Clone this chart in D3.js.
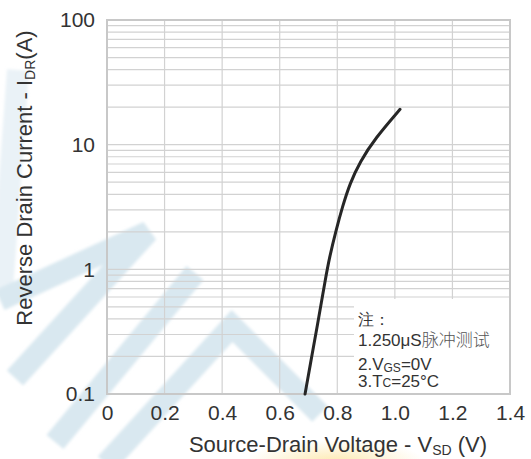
<!DOCTYPE html>
<html>
<head>
<meta charset="utf-8">
<script src="https://cdn.jsdelivr.net/npm/d3@7"></script>
<style>
  html, body { margin: 0; padding: 0; background: #ffffff; }
  svg { display: block; }
  text { font-family: "Liberation Sans", Arial, sans-serif; fill: #333333; }
</style>
</head>
<body>
<svg id="chart" width="531" height="459"></svg>
<script>
// ---- data ----
const vsd = [0.688, 0.714, 0.731, 0.745, 0.757, 0.773, 0.796, 0.818, 0.844, 0.879, 0.931, 1.018];
const idr = [0.1, 0.217, 0.358, 0.547, 0.792, 1.256, 2.07, 3.18, 4.9, 7.3, 11.2, 19.2];
const xTicks = [0, 0.2, 0.4, 0.6, 0.8, 1.0, 1.2, 1.4];
const xTickLabels = ["0", "0.2", "0.4", "0.6", "0.8", "1.0", "1.2", "1.4"];
const yTicks = [0.1, 1, 10, 100];
const yTickLabels = ["0.1", "1", "10", "100"];
const noteLines = ["注：", "1.250μS脉冲测试"];

// ---- layout ----
const svg = d3.select("#chart");
const x = d3.scaleLinear().domain([0, 1.4]).range([107, 510]);
const y = d3.scaleLog().domain([0.1, 100]).range([394, 20]);

const defs = svg.append("defs");
const blur = defs.append("filter").attr("id", "soft").attr("x", "-20%").attr("y", "-20%").attr("width", "140%").attr("height", "140%");
blur.append("feGaussianBlur").attr("stdDeviation", 1.5);
const glow = defs.append("radialGradient").attr("id", "glow");
glow.append("stop").attr("offset", "0%").attr("stop-color", "#fde7a8").attr("stop-opacity", 0.9);
glow.append("stop").attr("offset", "100%").attr("stop-color", "#fde7a8").attr("stop-opacity", 0);

// ---- background watermark (decorative) ----
const wm = svg.append("g").attr("filter", "url(#soft)").attr("fill", "none")
  .attr("stroke", "#d9e8f0").attr("stroke-width", 22).attr("stroke-linejoin", "miter");
const wmPaths = [
  [[18, 70], [2, 290]],
  [[0, 300], [148, 232], [15, 378]],
  [[195, 273], [55, 442]],
  [[106, 464], [232, 326], [320, 414]]
];
wmPaths.forEach((p, i) => {
  wm.append("path").attr("d", d3.line()(p)).attr("stroke-opacity", i === 0 ? 0.55 : 1);
});
svg.append("ellipse").attr("cx", 335).attr("cy", 462).attr("rx", 90).attr("ry", 22).attr("fill", "url(#glow)");

// ---- grid ----
const grid = svg.append("g").attr("stroke", "#d2d2d2").attr("stroke-width", 1.2);
const minor = [];
[0.1, 1, 10].forEach(d => { for (let k = 1; k <= 9; k++) minor.push(d * k); });
minor.filter(v => v > 0.1).forEach(v => {
  grid.append("line").attr("x1", x(0)).attr("x2", x(1.4)).attr("y1", y(v)).attr("y2", y(v));
});
xTicks.slice(1, -1).forEach(v => {
  grid.append("line").attr("x1", x(v)).attr("x2", x(v)).attr("y1", y(100)).attr("y2", y(0.1));
});
svg.append("rect").attr("x", x(0)).attr("y", y(100)).attr("width", x(1.4) - x(0)).attr("height", y(0.1) - y(100))
  .attr("fill", "none").attr("stroke", "#c8c8c8").attr("stroke-width", 2);

// ---- axes labels (via d3 axes, domain and ticks hidden) ----
const xAxis = svg.append("g").attr("transform", `translate(0,${y(0.1)})`)
  .call(d3.axisBottom(x).tickValues(xTicks).tickFormat((d, i) => xTickLabels[i]).tickSize(0).tickPadding(12));
const yAxis = svg.append("g").attr("transform", `translate(${x(0)},0)`)
  .call(d3.axisLeft(y).tickValues(yTicks).tickFormat((d, i) => yTickLabels[i]).tickSize(0).tickPadding(12));
[xAxis, yAxis].forEach(a => {
  a.select(".domain").remove();
  a.selectAll("text").attr("font-family", "Liberation Sans, Arial, sans-serif").attr("font-size", 21).attr("fill", "#333");
});
xAxis.selectAll("text").attr("dy", "0.71em").attr("y", 11);

// ---- note box ----
svg.append("rect").attr("x", 354).attr("y", 299).attr("width", 155).attr("height", 94).attr("fill", "#ffffff");
const note = svg.append("g").attr("font-size", 17);
note.append("text").attr("x", 358).attr("y", 325).attr("font-size", 16)
  .attr("font-family", "Noto Sans CJK SC, sans-serif").attr("font-weight", 300).attr("fill", "#444").text(noteLines[0]);
note.append("text").attr("x", 358).attr("y", 346).attr("fill", "#3a3a3a")
  .each(function() {
    const t = d3.select(this);
    t.append("tspan").text("1.250μS");
    t.append("tspan").attr("font-family", "Noto Sans CJK SC, sans-serif").attr("font-weight", 300).attr("fill", "#555").text("脉冲测试");
  });
const t2 = note.append("text").attr("x", 358).attr("y", 369.5).attr("fill", "#3a3a3a");
t2.append("tspan").text("2.V");
t2.append("tspan").attr("font-size", 12).attr("dy", 2).text("GS");
t2.append("tspan").attr("dy", -2).text("=0V");
const t3 = note.append("text").attr("x", 358).attr("y", 387).attr("fill", "#3a3a3a");
t3.append("tspan").text("3.T");
t3.append("tspan").attr("font-size", 12).attr("dy", 0).text("C");
t3.append("tspan").text("=25°C");

// ---- curve ----
const pts = vsd.map((v, i) => [v, idr[i]]);
svg.append("path").datum(pts)
  .attr("d", d3.line().x(d => x(d[0])).y(d => y(d[1])).curve(d3.curveBasis))
  .attr("fill", "none").attr("stroke", "#262626").attr("stroke-width", 3).attr("stroke-linecap", "round");

// ---- titles ----
const xt = svg.append("text").attr("x", 338).attr("y", 452).attr("text-anchor", "middle").attr("font-size", 22).attr("fill", "#333");
xt.append("tspan").text("Source-Drain Voltage - V");
xt.append("tspan").attr("font-size", 14).attr("dy", 3).text("SD");
xt.append("tspan").attr("dy", -3).text(" (V)");

const yt = svg.append("text").attr("transform", "translate(31.5,178) rotate(-90)").attr("text-anchor", "middle").attr("font-size", 22).attr("fill", "#333");
yt.append("tspan").text("Reverse Drain Current - I");
yt.append("tspan").attr("font-size", 14).attr("dy", 3).text("DR");
yt.append("tspan").attr("dy", -3).text("(A)");
</script>
</body>
</html>
